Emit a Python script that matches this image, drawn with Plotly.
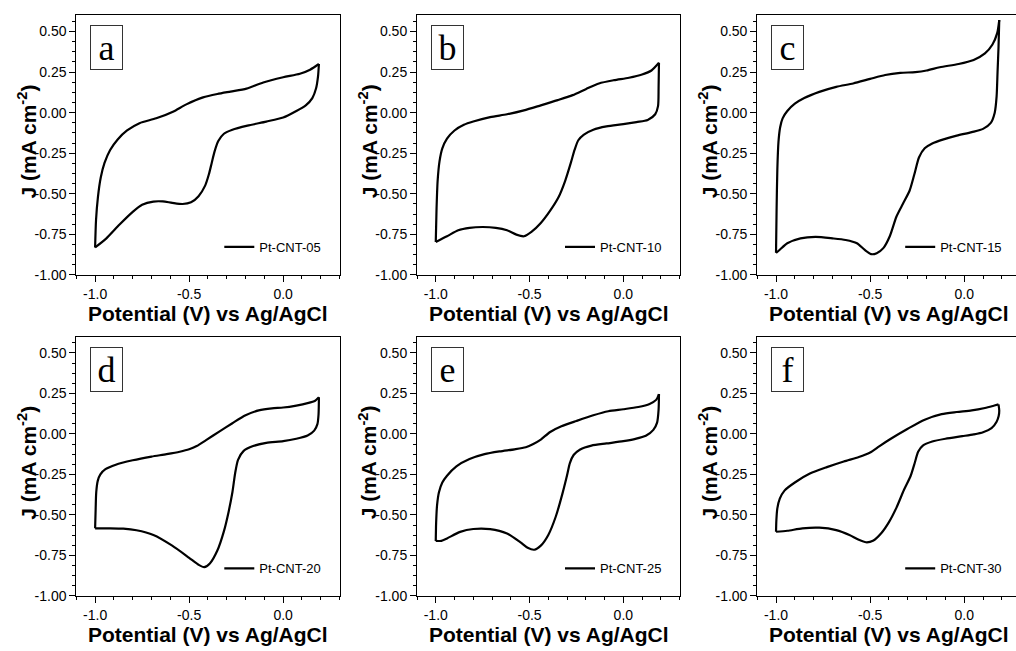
import plotly.graph_objects as go

# ---- cyclic voltammograms, anodic (forward) and cathodic (reverse) branches ----
samples = ["Pt-CNT-05", "Pt-CNT-10", "Pt-CNT-15", "Pt-CNT-20", "Pt-CNT-25", "Pt-CNT-30"]
panel_letters = ["a", "b", "c", "d", "e", "f"]

fwd_x_05 = [-1.0, -0.995, -0.985, -0.97, -0.95, -0.92, -0.88, -0.83, -0.764, -0.675, -0.586, -0.515,
            -0.426, -0.35, -0.28, -0.195, -0.106, 0.0, 0.089, 0.143, 0.19]
fwd_y_05 = [-0.831, -0.66, -0.52, -0.40, -0.31, -0.23, -0.165, -0.11, -0.065, -0.035, 0.006, 0.051,
            0.094, 0.115, 0.13, 0.148, 0.186, 0.218, 0.24, 0.265, 0.30]
rev_x_05 = [0.19, 0.185, 0.175, 0.155, 0.12, 0.07, 0.0, -0.09, -0.19, -0.27, -0.315, -0.345, -0.365,
            -0.38, -0.395, -0.415, -0.45, -0.49, -0.535, -0.59, -0.64, -0.69, -0.75, -0.80, -0.87,
            -0.94, -1.0]
rev_y_05 = [0.30, 0.22, 0.15, 0.09, 0.045, 0.01, -0.03, -0.055, -0.08, -0.105, -0.13, -0.175, -0.24,
            -0.31, -0.38, -0.45, -0.515, -0.553, -0.563, -0.556, -0.547, -0.548, -0.568, -0.612,
            -0.69, -0.775, -0.831]

fwd_x_10 = [-1.0, -0.996, -0.99, -0.98, -0.965, -0.94, -0.90, -0.85, -0.80, -0.71, -0.62, -0.53,
            -0.44, -0.35, -0.27, -0.20, -0.13, -0.05, 0.03, 0.10, 0.15, 0.19]
fwd_y_10 = [-0.797, -0.60, -0.42, -0.30, -0.22, -0.16, -0.11, -0.075, -0.055, -0.028, -0.010, 0.014,
            0.045, 0.077, 0.108, 0.145, 0.18, 0.20, 0.215, 0.235, 0.26, 0.307]
rev_x_10 = [0.19, 0.188, 0.185, 0.17, 0.13, 0.07, 0.0, -0.09, -0.16, -0.21, -0.24, -0.26, -0.28,
            -0.31, -0.345, -0.39, -0.44, -0.49, -0.53, -0.57, -0.62, -0.68, -0.75, -0.82, -0.88,
            -0.94, -1.0]
rev_y_10 = [0.307, 0.15, 0.04, -0.01, -0.045, -0.058, -0.071, -0.085, -0.105, -0.135, -0.17, -0.23,
            -0.31, -0.42, -0.52, -0.604, -0.68, -0.735, -0.762, -0.752, -0.725, -0.71, -0.705, -0.71,
            -0.725, -0.762, -0.797]

fwd_x_15 = [-1.0, -0.997, -0.993, -0.987, -0.978, -0.965, -0.94, -0.90, -0.85, -0.77, -0.68, -0.59,
            -0.50, -0.42, -0.34, -0.26, -0.20, -0.13, -0.03, 0.05, 0.11, 0.15, 0.175, 0.186]
fwd_y_15 = [-0.864, -0.60, -0.35, -0.18, -0.09, -0.035, 0.01, 0.055, 0.09, 0.128, 0.159, 0.18,
            0.208, 0.232, 0.245, 0.25, 0.26, 0.28, 0.30, 0.325, 0.365, 0.42, 0.49, 0.571]
rev_x_15 = [0.186, 0.182, 0.177, 0.172, 0.162, 0.14, 0.10, 0.04, -0.04, -0.11, -0.17, -0.21, -0.24,
            -0.265, -0.29, -0.325, -0.36, -0.395, -0.43, -0.465, -0.495, -0.53, -0.57, -0.63, -0.70,
            -0.79, -0.87, -0.94, -0.98, -1.0]
rev_y_15 = [0.571, 0.40, 0.25, 0.10, 0.0, -0.065, -0.10, -0.12, -0.142, -0.165, -0.19, -0.22,
            -0.275, -0.38, -0.48, -0.56, -0.64, -0.76, -0.835, -0.866, -0.872, -0.845, -0.805,
            -0.785, -0.775, -0.766, -0.775, -0.805, -0.845, -0.864]

fwd_x_20 = [-1.0, -0.997, -0.994, -0.986, -0.972, -0.945, -0.89, -0.80, -0.70, -0.62, -0.55, -0.50,
            -0.46, -0.41, -0.34, -0.27, -0.20, -0.13, -0.06, 0.0, 0.07, 0.13, 0.17, 0.19]
fwd_y_20 = [-0.583, -0.46, -0.36, -0.29, -0.25, -0.218, -0.19, -0.163, -0.14, -0.125, -0.11,
            -0.095, -0.075, -0.038, 0.014, 0.066, 0.115, 0.145, 0.158, 0.163, 0.175, 0.19, 0.205,
            0.226]
rev_x_20 = [0.19, 0.188, 0.182, 0.165, 0.13, 0.07, 0.0, -0.09, -0.16, -0.21, -0.24, -0.255, -0.27,
            -0.29, -0.315, -0.35, -0.39, -0.42, -0.45, -0.50, -0.59, -0.69, -0.78, -0.85, -0.93,
            -1.0]
rev_y_20 = [0.226, 0.12, 0.06, 0.02, -0.01, -0.03, -0.045, -0.055, -0.075, -0.105, -0.16, -0.24,
            -0.36, -0.48, -0.60, -0.72, -0.80, -0.823, -0.808, -0.765, -0.69, -0.624, -0.595,
            -0.585, -0.583, -0.583]

fwd_x_25 = [-1.0, -0.998, -0.993, -0.983, -0.965, -0.94, -0.89, -0.82, -0.74, -0.66, -0.58, -0.52,
            -0.48, -0.44, -0.39, -0.33, -0.25, -0.16, -0.08, 0.0, 0.08, 0.14, 0.175, 0.19]
fwd_y_25 = [-0.661, -0.55, -0.44, -0.36, -0.30, -0.258, -0.20, -0.155, -0.125, -0.108, -0.095,
            -0.082, -0.062, -0.035, 0.012, 0.047, 0.08, 0.115, 0.14, 0.152, 0.166, 0.185, 0.21,
            0.246]
rev_x_25 = [0.19, 0.188, 0.18, 0.16, 0.12, 0.06, 0.0, -0.09, -0.17, -0.23, -0.265, -0.285, -0.30,
            -0.325, -0.36, -0.40, -0.44, -0.475, -0.51, -0.55, -0.62, -0.71, -0.80, -0.87, -0.94,
            -0.97, -1.0]
rev_y_25 = [0.246, 0.15, 0.07, 0.025, -0.012, -0.032, -0.045, -0.059, -0.072, -0.096, -0.13, -0.18,
            -0.255, -0.37, -0.51, -0.624, -0.69, -0.715, -0.703, -0.668, -0.615, -0.588, -0.587,
            -0.605, -0.645, -0.66, -0.661]

fwd_x_30 = [-1.0, -0.998, -0.993, -0.98, -0.955, -0.90, -0.82, -0.73, -0.64, -0.56, -0.50, -0.45,
            -0.39, -0.30, -0.21, -0.12, -0.04, 0.04, 0.11, 0.16, 0.182]
fwd_y_30 = [-0.604, -0.53, -0.46, -0.40, -0.35, -0.30, -0.245, -0.205, -0.17, -0.143, -0.115,
            -0.075, -0.03, 0.032, 0.088, 0.122, 0.135, 0.145, 0.16, 0.175, 0.182]
rev_x_30 = [0.182, 0.186, 0.183, 0.172, 0.145, 0.10, 0.05, -0.01, -0.10, -0.17, -0.22, -0.245,
            -0.262, -0.285, -0.32, -0.36, -0.40, -0.44, -0.485, -0.522, -0.56, -0.61, -0.68, -0.77,
            -0.86, -0.94, -1.0]
rev_y_30 = [0.182, 0.145, 0.11, 0.075, 0.035, 0.01, -0.003, -0.014, -0.03, -0.047, -0.072, -0.11,
            -0.175, -0.26, -0.345, -0.455, -0.545, -0.612, -0.66, -0.669, -0.654, -0.624, -0.594,
            -0.579, -0.583, -0.598, -0.604]

forward_x = [fwd_x_05, fwd_x_10, fwd_x_15, fwd_x_20, fwd_x_25, fwd_x_30]
forward_y = [fwd_y_05, fwd_y_10, fwd_y_15, fwd_y_20, fwd_y_25, fwd_y_30]
reverse_x = [rev_x_05, rev_x_10, rev_x_15, rev_x_20, rev_x_25, rev_x_30]
reverse_y = [rev_y_05, rev_y_10, rev_y_15, rev_y_20, rev_y_25, rev_y_30]

# ---- axis ticks ----
x_tick_vals = [-1.0, -0.5, 0.0]
x_tick_text = ["-1.0", "-0.5", "0.0"]
y_tick_vals = [-1.0, -0.75, -0.5, -0.25, 0.0, 0.25, 0.5]
y_tick_text = ["-1.00", "-0.75", "-0.50", "-0.25", "0.00", "0.25", "0.50"]

x_title = "Potential (V) vs Ag/AgCl"
y_title = "J (mA cm<sup>-2</sup>)"

# ---- page geometry (pixels) ----
W, H = 1016, 651
col_left = [76.3, 417.0, 757.2]
col_right = [339.6, 679.6, 1016.0]
frame_w = 263.3
row_top = [15.5, 340.9]
row_bottom = [278.3, 603.3]
x_ranges = [[-1.1, 0.3], [-1.1, 0.3], [-1.1, 0.275]]
y_range = [-1.0, 0.6]

SANS = "Liberation Sans, Arial, sans-serif"
SERIF = "Liberation Serif, Times New Roman, serif"


def px(x):
    return x / W


def py(y):
    return 1 - y / H


curve_line = dict(color="black", width=2.2, shape="spline", smoothing=0.7)

fig = go.Figure()
annotations = []
layout_axes = {}

for i in range(6):
    r, c = divmod(i, 3)
    n = i + 1
    xa = "x" if n == 1 else f"x{n}"
    ya = "y" if n == 1 else f"y{n}"
    leg = "legend" if n == 1 else f"legend{n}"

    fig.add_trace(go.Scatter(
        x=forward_x[i], y=forward_y[i], xaxis=xa, yaxis=ya, mode="lines",
        line=curve_line, name=samples[i], legend=leg, showlegend=True, hoverinfo="skip"))
    fig.add_trace(go.Scatter(
        x=reverse_x[i], y=reverse_y[i], xaxis=xa, yaxis=ya, mode="lines",
        line=curve_line, name=samples[i], legend=leg, showlegend=False, hoverinfo="skip"))

    xkey = "xaxis" if n == 1 else f"xaxis{n}"
    ykey = "yaxis" if n == 1 else f"yaxis{n}"
    layout_axes[xkey] = dict(
        domain=[px(col_left[c]), px(col_right[c])], anchor=ya, range=x_ranges[c],
        tickmode="array", tickvals=x_tick_vals, ticktext=x_tick_text,
        ticks="outside", ticklen=6, tickwidth=1, tickcolor="black",
        minor=dict(tickmode="linear", tick0=-1.0, dtick=0.1, ticks="outside",
                   ticklen=3, tickwidth=1, tickcolor="black"),
        showline=True, linecolor="black", linewidth=1, mirror=True,
        showgrid=False, zeroline=False,
        tickfont=dict(family=SANS, size=14, color="black"))
    layout_axes[ykey] = dict(
        domain=[py(row_bottom[r]), py(row_top[r])], anchor=xa, range=y_range,
        tickmode="array", tickvals=y_tick_vals, ticktext=y_tick_text,
        ticks="outside", ticklen=6, tickwidth=1, tickcolor="black",
        minor=dict(tickmode="linear", tick0=-1.0, dtick=0.0625, ticks="outside",
                   ticklen=3, tickwidth=1, tickcolor="black"),
        showline=True, linecolor="black", linewidth=1, mirror=(c != 2),
        showgrid=False, zeroline=False,
        tickfont=dict(family=SANS, size=14, color="black"))

    # legend entry inside the lower right of each panel
    layout_axes[leg] = dict(
        x=px(col_left[c] + 143), y=py(row_top[r] + 234.5), xanchor="left", yanchor="middle",
        bgcolor="rgba(0,0,0,0)", borderwidth=0, itemwidth=30,
        font=dict(family=SANS, size=13, color="black"))

    # panel letter in a framed box
    annotations.append(dict(
        text=panel_letters[i], xref="paper", yref="paper",
        x=px(col_left[c] + 14), y=py(row_top[r] + 10), xanchor="left", yanchor="top",
        showarrow=False, width=31, height=43, align="center", valign="middle",
        bordercolor="#333333", borderwidth=1, borderpad=0,
        font=dict(family=SERIF, size=36, color="black")))

    # axis titles
    annotations.append(dict(
        text=x_title, xref="paper", yref="paper",
        x=px(col_left[c] + frame_w / 2), y=py(row_bottom[r] + 39),
        xanchor="center", yanchor="middle", showarrow=False,
        font=dict(family=SANS, size=21, color="black", weight="bold")))
    annotations.append(dict(
        text=y_title, xref="paper", yref="paper",
        x=px(col_left[c] - 49), y=py((row_top[r] + row_bottom[r]) / 2 - 4),
        xanchor="center", yanchor="middle", textangle=-90, showarrow=False,
        font=dict(family=SANS, size=21, color="black", weight="bold")))

fig.update_layout(
    width=W, height=H, margin=dict(l=0, r=0, t=0, b=0),
    paper_bgcolor="white", plot_bgcolor="white",
    annotations=annotations, **layout_axes)

fig.write_html("out.html")
